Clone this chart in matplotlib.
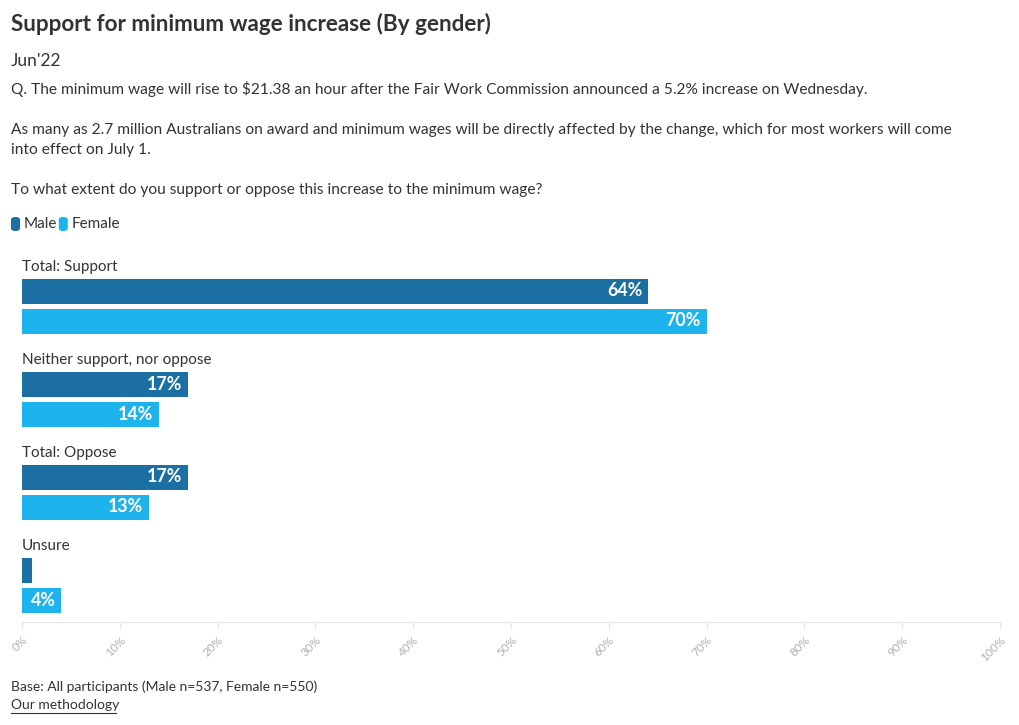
import matplotlib.pyplot as plt
from matplotlib.patches import FancyBboxPatch

categories = ["Total: Support", "Neither support, nor oppose", "Total: Oppose", "Unsure"]
male = [64, 17, 17, 1]
female = [70, 14, 13, 4]
series_names = ["Male", "Female"]
colors = ["#1b6fa3", "#1db3ec"]
ticks = list(range(0, 101, 10))

title = "Support for minimum wage increase (By gender)"
subtitle = "Jun'22"
question = ("Q. The minimum wage will rise to $21.38 an hour after the Fair Work Commission announced a 5.2% increase on Wednesday.\n\n"
            "As many as 2.7 million Australians on award and minimum wages will be directly affected by the change, which for most workers will come\n"
            "into effect on July 1.\n\n"
            "To what extent do you support or oppose this increase to the minimum wage?")
footer = "Base: All participants (Male n=537, Female n=550)"
link = "Our methodology"

plt.rcParams['font.family'] = ['Lato', 'DejaVu Sans']
W, H = 1020, 725
fig = plt.figure(figsize=(W / 100, H / 100), dpi=100)
txt = '#333333'

fig.text(11 / W, 1 - 24 / H, title, fontsize=16.2, fontweight='bold', color=txt, va='center')
fig.text(11 / W, 1 - 61 / H, subtitle, fontsize=12.5, color=txt, va='center')
fig.text(11 / W, 1 - 81 / H, question, fontsize=11.2, color=txt, va='top', linespacing=1.55)

# legend
lx = 11
for name, c in zip(series_names, colors):
    fig.patches.append(FancyBboxPatch((lx / W, 1 - 231 / H), 9 / W, 14 / H,
                                      boxstyle="round,pad=0,rounding_size=0.004",
                                      transform=fig.transFigure, fc=c, ec='none'))
    fig.text((lx + 13) / W, 1 - 224 / H, name, fontsize=11, color=txt, va='center')
    lx += 13 + len(name) * 7.2 + 6

ax = fig.add_axes([22 / W, 1 - 622 / H, 978 / W, 372 / H])
ax.set_xlim(0, 100)
ax.set_ylim(372, 0)

gap, bh = 93, 25
for i, cat in enumerate(categories):
    ym = 41 + gap * i
    yf = ym + 30
    ax.text(0, ym - 24, cat, fontsize=11, color=txt, va='center', ha='left')
    for y, v, c in ((ym, male[i], colors[0]), (yf, female[i], colors[1])):
        ax.barh(y, v, height=bh, color=c)
        if v >= 3:
            ax.text(v - 0.6, y, f"{v}%", color='white', fontsize=12.8,
                    fontweight='bold', va='center', ha='right')

for s in ['top', 'right', 'left']:
    ax.spines[s].set_visible(False)
ax.spines['bottom'].set_color('#e6e6e6')
ax.set_yticks([])
ax.set_xticks(ticks)
ax.set_xticklabels([f"{t}%" for t in ticks], rotation=45, ha='right',
                   rotation_mode='anchor', fontsize=8.5, color='#b0b0b0')
ax.tick_params(axis='x', color='#e6e6e6', length=5, pad=4)

fig.text(11 / W, 1 - 687 / H, footer, fontsize=10, color=txt, va='center')
fig.text(11 / W, 1 - 705 / H, link, fontsize=10, color=txt, va='center')
fig.add_artist(plt.Line2D([11 / W, 116 / W], [1 - 713 / H, 1 - 713 / H],
                          transform=fig.transFigure, color=txt, lw=0.8))

fig.savefig('out.png', dpi=100, facecolor='white')
